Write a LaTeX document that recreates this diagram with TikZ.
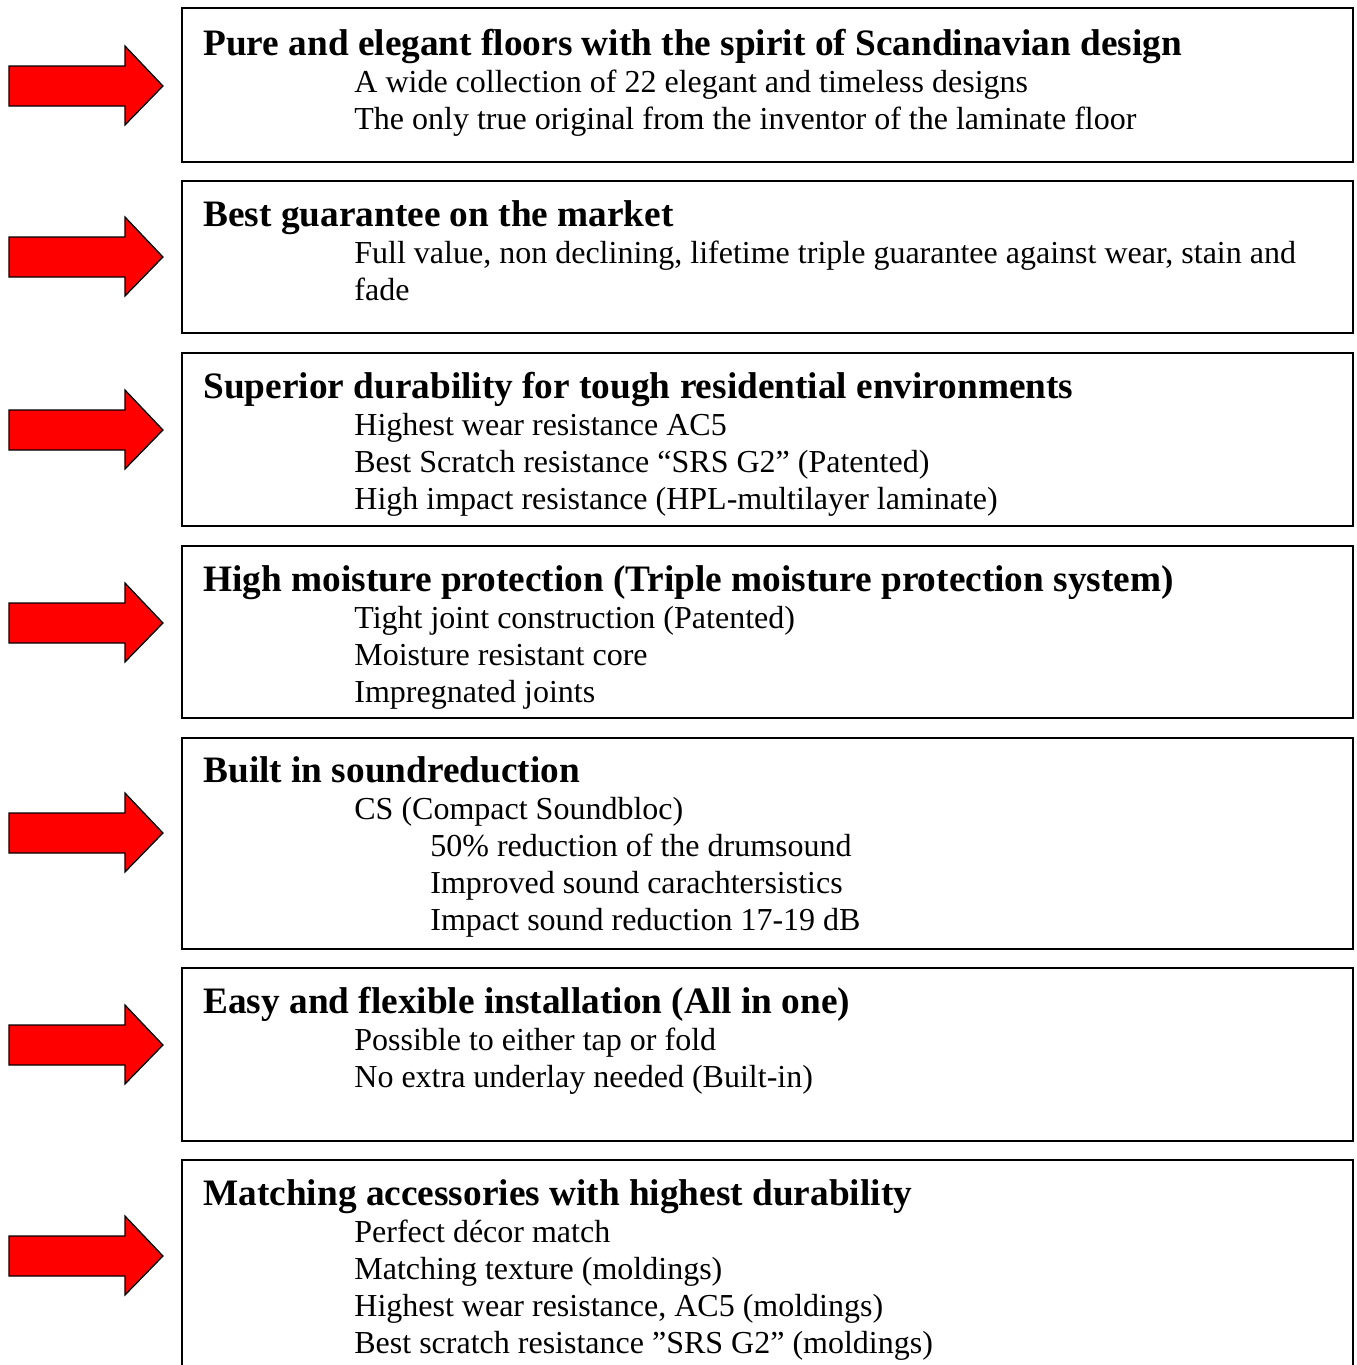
\documentclass[tikz,border=0pt]{standalone}
\usepackage{fontspec}
\setmainfont{Liberation Serif}
\usepackage{tikz}

\tikzset{
  panel/.style={draw=black,line width=1pt},
  bigarrow/.style={draw=black,fill=red,line width=0.6pt,line join=miter},
  head/.style={anchor=base west,inner sep=0pt,font=\fontsize{18.65}{21}\selectfont\bfseries},
  item/.style={anchor=base west,inner sep=0pt,font=\fontsize{16}{18.5}\selectfont}
}

\begin{document}
\begin{tikzpicture}[x=0.5pt,y=-0.5pt]
\useasboundingbox (0,0) rectangle (1356,1365);

% Arrows
\draw[bigarrow] (9,86) ++(0,-20) -- ++(116,0) -- ++(0,-20) -- ++(38,40) -- ++(-38,39) -- ++(0,-19) -- ++(-116,0) -- cycle;
\draw[bigarrow] (9,257) ++(0,-20) -- ++(116,0) -- ++(0,-20) -- ++(38,40) -- ++(-38,39) -- ++(0,-19) -- ++(-116,0) -- cycle;
\draw[bigarrow] (9,430) ++(0,-20) -- ++(116,0) -- ++(0,-20) -- ++(38,40) -- ++(-38,39) -- ++(0,-19) -- ++(-116,0) -- cycle;
\draw[bigarrow] (9,623) ++(0,-20) -- ++(116,0) -- ++(0,-20) -- ++(38,40) -- ++(-38,39) -- ++(0,-19) -- ++(-116,0) -- cycle;
\draw[bigarrow] (9,833) ++(0,-20) -- ++(116,0) -- ++(0,-20) -- ++(38,40) -- ++(-38,39) -- ++(0,-19) -- ++(-116,0) -- cycle;
\draw[bigarrow] (9,1045) ++(0,-20) -- ++(116,0) -- ++(0,-20) -- ++(38,40) -- ++(-38,39) -- ++(0,-19) -- ++(-116,0) -- cycle;
\draw[bigarrow] (9,1256) ++(0,-20) -- ++(116,0) -- ++(0,-20) -- ++(38,40) -- ++(-38,39) -- ++(0,-19) -- ++(-116,0) -- cycle;

% Boxes
\draw[panel] (182,8) rectangle (1353,162);
\draw[panel] (182,181) rectangle (1353,333);
\draw[panel] (182,353) rectangle (1353,526);
\draw[panel] (182,546) rectangle (1353,718);
\draw[panel] (182,738) rectangle (1353,949);
\draw[panel] (182,968) rectangle (1353,1141);
\draw[panel] (182,1160) rectangle (1353,1380);

% Design
\node[head] (h1) at (203,55) {Pure and elegant floors with the spirit of Scandinavian design};
\node[item] (t11) at (354,92) {A wide collection of 22 elegant and timeless designs};
\node[item] (t12) at (354,129) {The only true original from the inventor of the laminate floor};

% Guarantee
\node[head] (h2) at (203,226) {Best guarantee on the market};
\node[item] (t21) at (354,263) {Full value, non declining, lifetime triple guarantee against wear, stain and};
\node[item] (t22) at (354,300) {fade};

% Durability
\node[head] (h3) at (203,398) {Superior durability for tough residential environments};
\node[item] (t31) at (354,435) {Highest wear resistance AC5};
\node[item] (t32) at (354,472) {Best Scratch resistance “SRS G2” (Patented)};
\node[item] (t33) at (354,509) {High impact resistance (HPL-multilayer laminate)};

% Moisture
\node[head] (h4) at (203,591) {High moisture protection (Triple moisture protection system)};
\node[item] (t41) at (354,628) {Tight joint construction (Patented)};
\node[item] (t42) at (354,665) {Moisture resistant core};
\node[item] (t43) at (354,702) {Impregnated joints};

% Sound
\node[head] (h5) at (203,782) {Built in soundreduction};
\node[item] (t51) at (354,819) {CS (Compact Soundbloc)};
\node[item] (t52) at (430,856) {50\% reduction of the drumsound};
\node[item] (t53) at (430,893) {Improved sound carachtersistics};
\node[item] (t54) at (430,930) {Impact sound reduction 17-19 dB};

% Installation
\node[head] (h6) at (203,1013) {Easy and flexible installation (All in one)};
\node[item] (t61) at (354,1050) {Possible to either tap or fold};
\node[item] (t62) at (354,1087) {No extra underlay needed (Built-in)};

% Accessories
\node[head] (h7) at (203,1205) {Matching accessories with highest durability};
\node[item] (t71) at (354,1242) {Perfect décor match};
\node[item] (t72) at (354,1279) {Matching texture (moldings)};
\node[item] (t73) at (354,1316) {Highest wear resistance, AC5 (moldings)};
\node[item] (t74) at (354,1353) {Best scratch resistance ”SRS G2” (moldings)};
\end{tikzpicture}
\end{document}
